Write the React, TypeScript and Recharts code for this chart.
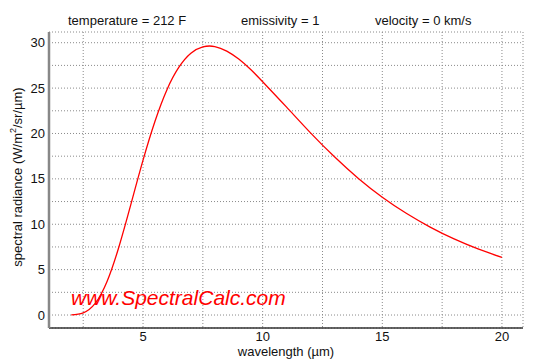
import { CartesianGrid, Line, LineChart, XAxis, YAxis } from "recharts";

// ensure the chart sits at the page origin
document.body.style.margin = "0";

const wavelength = [
  2, 2.5, 3, 3.5, 4, 4.5, 5, 5.5, 6, 6.5, 7, 7.5, 8, 8.5, 9, 9.5, 10, 11, 12,
  13, 14, 15, 16, 17, 18, 19, 20,
];
const radiance = [
  0.02, 0.24, 1.28, 3.72, 7.58, 12.27, 17.06, 21.35, 24.83, 27.3, 28.84, 29.54,
  29.58, 29.08, 28.2, 27.05, 25.7, 22.9, 20.07, 17.43, 15.05, 12.98, 11.21,
  9.69, 8.38, 7.28, 6.34,
];
const xTicks = [2.5, 5, 7.5, 10, 12.5, 15, 17.5, 20];
const yTicks = [0, 2.5, 5, 7.5, 10, 12.5, 15, 17.5, 20, 22.5, 25, 27.5, 30];
const header = ["temperature = 212 F", "emissivity = 1", "velocity = 0 km/s"];

const data = wavelength.map((w, i) => ({ w, r: radiance[i] }));

const FONT = "'Liberation Sans', Arial, sans-serif";
const TICK = { fill: "#111", fontSize: 13, fontFamily: FONT };
const onlyFives = (v: number) => (v % 5 === 0 ? String(v) : "");

function YLabel() {
  return (
    <text
      x={22}
      y={177}
      transform="rotate(-90 22 177)"
      textAnchor="middle"
      fontSize={13}
      fontFamily={FONT}
      fill="#111"
    >
      spectral radiance (W/m
      <tspan dy={-6} fontSize={9}>
        2
      </tspan>
      <tspan dy={6}>/sr/µm)</tspan>
    </text>
  );
}

export default function App() {
  return (
    <div
      style={{
        position: "relative",
        width: 539,
        height: 362,
        background: "#fff",
        fontFamily: FONT,
        color: "#111",
      }}
    >
      <LineChart
        width={539}
        height={362}
        data={data}
        margin={{ top: 32, right: 16, bottom: 0, left: 0 }}
      >
        <CartesianGrid stroke="#8a8a8a" strokeDasharray="1 2" />
        <XAxis
          dataKey="w"
          type="number"
          domain={[1.07, 20.88]}
          ticks={xTicks}
          tickFormatter={onlyFives}
          tick={TICK}
          tickLine={false}
          tickSize={2}
          tickMargin={2}
          height={34}
          axisLine={{ stroke: "#333", strokeWidth: 1.5 }}
          label={{
            value: "wavelength (µm)",
            position: "insideBottom",
            offset: 6,
            fontSize: 13,
            fontFamily: FONT,
            fill: "#111",
          }}
        />
        <XAxis
          xAxisId="top"
          orientation="top"
          dataKey="w"
          type="number"
          domain={[1.07, 20.88]}
          tick={false}
          tickLine={false}
          height={0}
          axisLine={{ stroke: "#666", strokeWidth: 1.5 }}
        />
        <YAxis
          type="number"
          domain={[-1.43, 31.18]}
          ticks={yTicks}
          tickFormatter={onlyFives}
          tick={TICK}
          tickLine={false}
          tickSize={2}
          tickMargin={2}
          width={49}
          axisLine={{ stroke: "#888", strokeWidth: 2.5 }}
          label={{ content: () => <YLabel /> }}
        />
        <YAxis
          yAxisId="right"
          orientation="right"
          type="number"
          domain={[-1.43, 31.18]}
          tick={false}
          tickLine={false}
          width={0}
          axisLine={{ stroke: "#333", strokeWidth: 1.5 }}
        />
        <Line
          dataKey="r"
          type="natural"
          stroke="#ff0000"
          strokeWidth={1.3}
          dot={false}
          isAnimationActive={false}
        />
      </LineChart>

      {header.map((t, i) => (
        <div
          key={t}
          style={{
            position: "absolute",
            top: 13,
            left: [68, 241, 375][i],
            fontSize: 13,
            whiteSpace: "nowrap",
          }}
        >
          {t}
        </div>
      ))}
      <div
        style={{
          position: "absolute",
          left: 71,
          top: 286,
          fontSize: 21,
          fontStyle: "italic",
          color: "#ff0000",
          whiteSpace: "nowrap",
        }}
      >
        www.SpectralCalc.com
      </div>
    </div>
  );
}
